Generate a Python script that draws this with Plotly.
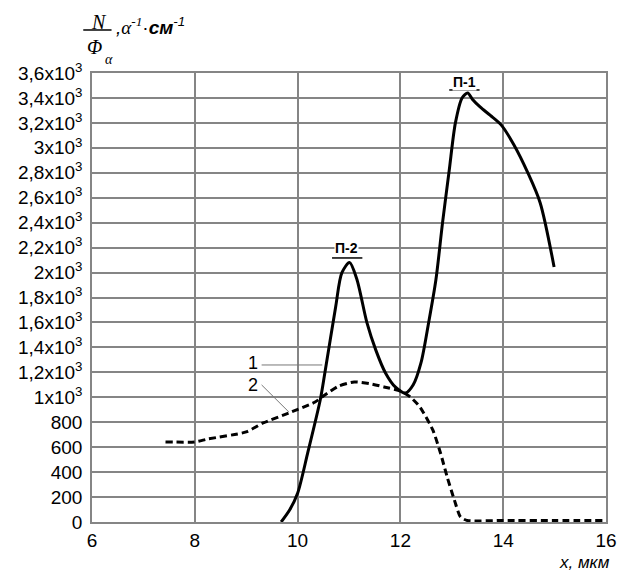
import plotly.graph_objects as go

# Curve 1 (solid)
x1 = [9.68, 9.85, 10.0, 10.2, 10.44, 10.53, 10.74, 10.86, 11.01, 11.15, 11.35, 11.52, 11.71,
      11.9, 12.1, 12.25, 12.4, 12.55, 12.69, 12.82, 12.95, 13.07, 13.2, 13.31, 13.4, 13.55,
      13.75, 13.96, 14.21, 14.48, 14.72, 14.99]
y1 = [0, 100, 230, 560, 978, 1195, 1724, 1997, 2080, 1950, 1596, 1380, 1195,
      1083, 1034, 1100, 1275, 1600, 1940, 2400, 2820, 3200, 3400, 3440, 3390, 3328,
      3260, 3184, 3023, 2799, 2558, 2045]

# Curve 2 (dashed)
x2 = [7.43, 8.0, 8.25, 9.0, 9.33, 9.83, 10.34, 10.53, 10.8, 11.1, 11.4, 11.68, 12.0, 12.2,
      12.38, 12.63, 12.78, 12.91, 13.05, 13.17, 13.3, 14, 15, 16]
y2 = [642, 642, 665, 722, 794, 874, 962, 1018, 1090, 1123, 1110, 1083, 1050, 1000,
      922, 738, 553, 361, 176, 40, 12, 12, 12, 12]

y_tickvals = [0, 200, 400, 600, 800, 1000, 1200, 1400, 1600, 1800, 2000, 2200, 2400,
              2600, 2800, 3000, 3200, 3400, 3600]
y_ticktext = ["0", "200", "400", "600", "800", "1x10<sup>3</sup>", "1,2x10<sup>3</sup>",
              "1,4x10<sup>3</sup>", "1,6x10<sup>3</sup>", "1,8x10<sup>3</sup>", "2x10<sup>3</sup>",
              "2,2x10<sup>3</sup>", "2,4x10<sup>3</sup>", "2,6x10<sup>3</sup>", "2,8x10<sup>3</sup>",
              "3x10<sup>3</sup>", "3,2x10<sup>3</sup>", "3,4x10<sup>3</sup>", "3,6x10<sup>3</sup>"]
x_tickvals = [6, 8, 10, 12, 14, 16]
x_ticktext = ["6", "8", "10", "12", "14", "16"]

GRID = "#858585"
SANS = "Liberation Sans, Arial, sans-serif"
SERIF = "Liberation Serif, Times New Roman, serif"

fig = go.Figure()
fig.add_trace(go.Scatter(x=x2, y=y2, mode="lines",
                         line=dict(color="black", width=3, dash="7px,4px", shape="spline", smoothing=0.6),
                         showlegend=False, hoverinfo="skip"))
fig.add_trace(go.Scatter(x=x1, y=y1, mode="lines",
                         line=dict(color="black", width=3, shape="spline", smoothing=0.8),
                         showlegend=False, hoverinfo="skip"))

def ann(x, y, text, size, family=SANS, xref="x", yref="y", xanchor="center", **kw):
    return dict(x=x, y=y, xref=xref, yref=yref, text=text, showarrow=False,
                xanchor=xanchor, yanchor="middle",
                font=dict(family=family, size=size, color="black"), **kw)

annotations = [
    # peak labels
    ann(10.95, 2197, "<b>П-2</b>", 14, bgcolor="white", borderpad=0),
    ann(13.24, 3528, "<b>П-1</b>", 14, bgcolor="white", borderpad=0),
    # curve labels
    ann(9.14, 1275, "1", 18),
    ann(9.14, 1099, "2", 18),
    # y-axis title as fraction
    ann(0.0133, 1.114, "<i>N</i>", 20, family=SERIF, xref="paper", yref="paper"),
    ann(0.004, 1.058, "<i>Φ</i>", 20, family=SERIF, xref="paper", yref="paper"),
    ann(0.034, 1.029, "<i>α</i>", 14, family=SERIF, xref="paper", yref="paper"),
    ann(0.042, 1.104,
        "<i>,</i><span style='font-family:Liberation Serif'><i>α</i><sup><i>-1</i></sup></span>·<b><i>см</i></b><sup><i>-1</i></sup>",
        19, xref="paper", yref="paper", xanchor="left"),
    # x-axis title
    ann(0.958, -0.091, "<i>x, мкм</i>", 17, xref="paper", yref="paper"),
]

shapes = [
    dict(type="line", xref="x", yref="y", x0=10.67, x1=11.26, y0=2117, y1=2117,
         line=dict(color="black", width=1.5)),
    dict(type="line", xref="x", yref="y", x0=12.95, x1=13.54, y0=3464, y1=3464,
         line=dict(color="black", width=1.5)),
    dict(type="line", xref="x", yref="y", x0=9.30, x1=10.48, y0=1259, y1=1259,
         line=dict(color="#777777", width=1)),
    dict(type="line", xref="x", yref="y", x0=9.30, x1=9.83, y0=1099, y1=882,
         line=dict(color="#777777", width=1)),
    dict(type="line", xref="paper", yref="paper", x0=-0.017, x1=0.038, y0=1.0958, y1=1.0958,
         line=dict(color="black", width=1.5)),
]

fig.update_layout(
    width=629, height=573,
    margin=dict(l=92, r=12, t=73, b=51),
    paper_bgcolor="white", plot_bgcolor="white",
    annotations=annotations, shapes=shapes,
    xaxis=dict(range=[6, 16], tickvals=x_tickvals, ticktext=x_ticktext,
               showgrid=True, gridcolor=GRID, gridwidth=1.5,
               showline=True, linecolor=GRID, linewidth=1.5, mirror=True,
               zeroline=False, ticks="", ticklabelstandoff=0,
               tickfont=dict(family=SANS, size=19, color="black")),
    yaxis=dict(range=[0, 3600], tickvals=y_tickvals, ticktext=y_ticktext,
               showgrid=True, gridcolor=GRID, gridwidth=1.5,
               showline=True, linecolor=GRID, linewidth=1.5, mirror=True,
               zeroline=False, ticks="", ticklabelstandoff=4,
               tickfont=dict(family=SANS, size=19, color="black")),
)

fig.write_html("out.html")
